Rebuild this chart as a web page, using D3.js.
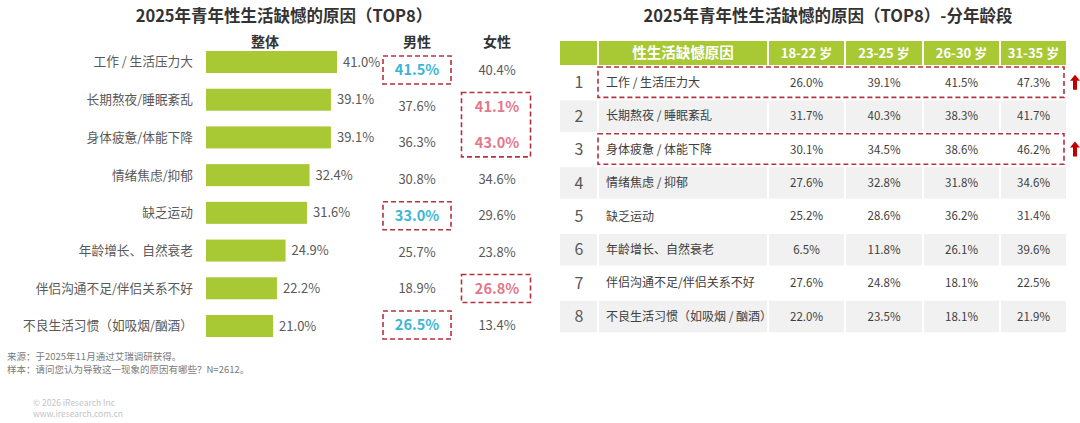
<!DOCTYPE html>
<html><head><meta charset="utf-8">
<script src="https://cdn.jsdelivr.net/npm/d3@7"></script>
<style>
html,body{margin:0;padding:0;background:#fff;}
svg{display:block;font-family:"Noto Sans CJK SC","Noto Sans",sans-serif;}
</style></head>
<body>
<svg id="chart" width="1080" height="423"></svg>
<script>
// ---------- data ----------
const leftTitle = "2025年青年性生活缺憾的原因（TOP8）";
const rightTitle = "2025年青年性生活缺憾的原因（TOP8）-分年龄段";
const groupHeaders = ["整体", "男性", "女性"];
const categories = ["工作 / 生活压力大","长期熬夜/睡眠紊乱","身体疲惫/体能下降","情绪焦虑/抑郁","缺乏运动","年龄增长、自然衰老","伴侣沟通不足/伴侣关系不好","不良生活习惯（如吸烟/酗酒）"];
const overall = [41.0, 39.1, 39.1, 32.4, 31.6, 24.9, 22.2, 21.0];
const male    = [41.5, 37.6, 36.3, 30.8, 33.0, 25.7, 18.9, 26.5];
const female  = [40.4, 41.1, 43.0, 34.6, 29.6, 23.8, 26.8, 13.4];
const maleHighlight = [[0], [4], [7]];
const femaleHighlight = [[1, 2], [6]];

const tableHeader = "性生活缺憾原因";
const tableCategories = ["工作 / 生活压力大","长期熬夜 / 睡眠紊乱","身体疲惫 / 体能下降","情绪焦虑 / 抑郁","缺乏运动","年龄增长、自然衰老","伴侣沟通不足/伴侣关系不好","不良生活习惯（如吸烟 / 酗酒）"];
const ageGroups = ["18-22 岁","23-25 岁","26-30 岁","31-35 岁"];
const age18_22 = [26.0, 31.7, 30.1, 27.6, 25.2, 6.5, 27.6, 22.0];
const age23_25 = [39.1, 40.3, 34.5, 32.8, 28.6, 11.8, 24.8, 23.5];
const age26_30 = [41.5, 38.3, 38.6, 31.8, 36.2, 26.1, 18.1, 18.1];
const age31_35 = [47.3, 41.7, 46.2, 34.6, 31.4, 39.6, 22.5, 21.9];
const tableHighlightRows = [0, 2];

const notes = ["来源：于2025年11月通过艾瑞调研获得。", "样本：请问您认为导致这一现象的原因有哪些？N=2612。"];
const credits = ["© 2026 iResearch Inc", "www.iresearch.com.cn"];

// ---------- styles ----------
const GREEN = "#a9c934", TXT = "#595959", DARK = "#333333", RED = "#b5323e";
const BLUE = "#3cb6d6", PINK = "#e3788c", GRAY = "#f1f1f1";
const fmt = v => v.toFixed(1) + "%";

const svg = d3.select("#chart");

// ---------- left chart ----------
svg.append("text").attr("x", 284).attr("y", 22).attr("text-anchor", "middle")
  .attr("font-size", 16.5).attr("font-weight", "bold").attr("fill", DARK).text(leftTitle);

const colX = [265, 417, 497];
svg.selectAll("text.gh").data(groupHeaders).join("text").attr("class", "gh")
  .attr("x", (d, i) => colX[i]).attr("y", 47).attr("text-anchor", "middle")
  .attr("font-size", 14).attr("font-weight", "bold").attr("fill", DARK).text(d => d);

const x = d3.scaleLinear().domain([0, 41]).range([206, 337]);
const y = d3.scalePoint().domain(d3.range(categories.length)).range([62, 326]);
const y2 = d3.scalePoint().domain(d3.range(categories.length)).range([70, 325]);
const barH = 22;

svg.selectAll("text.cat").data(categories).join("text").attr("class", "cat")
  .attr("x", 193).attr("y", (d, i) => y(i)).attr("dy", "0.35em").attr("text-anchor", "end")
  .attr("font-size", 12.7).attr("fill", TXT).text(d => d);

svg.selectAll("rect.bar").data(overall).join("rect").attr("class", "bar")
  .attr("x", x(0)).attr("y", (d, i) => y(i) - barH / 2)
  .attr("width", d => x(d) - x(0)).attr("height", barH).attr("fill", GREEN);

svg.selectAll("text.bv").data(overall).join("text").attr("class", "bv")
  .attr("x", d => x(d) + 6).attr("y", (d, i) => y(i)).attr("dy", "0.35em")
  .attr("font-size", 13).attr("fill", TXT).text(fmt);

const maleHi = new Set(maleHighlight.flat());
const femaleHi = new Set(femaleHighlight.flat());

svg.selectAll("text.mv").data(male).join("text").attr("class", "mv")
  .attr("x", colX[1]).attr("y", (d, i) => y2(i)).attr("dy", "0.35em").attr("text-anchor", "middle")
  .attr("font-size", (d, i) => maleHi.has(i) ? 14.5 : 13)
  .attr("font-weight", (d, i) => maleHi.has(i) ? "bold" : "normal")
  .attr("fill", (d, i) => maleHi.has(i) ? BLUE : TXT).text(fmt);

svg.selectAll("text.fv").data(female).join("text").attr("class", "fv")
  .attr("x", colX[2]).attr("y", (d, i) => y2(i)).attr("dy", "0.35em").attr("text-anchor", "middle")
  .attr("font-size", (d, i) => femaleHi.has(i) ? 14.5 : 13)
  .attr("font-weight", (d, i) => femaleHi.has(i) ? "bold" : "normal")
  .attr("fill", (d, i) => femaleHi.has(i) ? PINK : TXT).text(fmt);

function hiBoxes(groups, cx, w) {
  svg.append("g").selectAll("rect").data(groups).join("rect")
    .attr("x", cx - w / 2).attr("y", g => y2(g[0]) - 14)
    .attr("width", w).attr("height", g => y2(g[g.length - 1]) - y2(g[0]) + 28)
    .attr("fill", "none").attr("stroke", RED).attr("stroke-width", 1.6).attr("stroke-dasharray", "5,3");
}
hiBoxes(maleHighlight, colX[1], 68);
hiBoxes(femaleHighlight, colX[2] - 1, 69);

// ---------- right table ----------
svg.append("text").attr("x", 828).attr("y", 22).attr("text-anchor", "middle")
  .attr("font-size", 16.5).attr("font-weight", "bold").attr("fill", DARK).text(rightTitle);

const colEdges = [560, 598, 768, 845, 923, 1000, 1067];
const headTop = 41, headBot = 65, rowTop = 66, rowH = 33.4;
const headers = ["", tableHeader].concat(ageGroups);
const ageSeries = [age18_22, age23_25, age26_30, age31_35];
const rowY = d3.scaleBand().domain(d3.range(tableCategories.length)).range([rowTop, rowTop + rowH * tableCategories.length]);

// header
svg.append("g").selectAll("rect").data(headers).join("rect")
  .attr("x", (d, i) => colEdges[i] + (i ? 1 : 0)).attr("y", headTop)
  .attr("width", (d, i) => colEdges[i + 1] - colEdges[i] - (i ? 1 : 0) - 1).attr("height", headBot - headTop)
  .attr("fill", GREEN);
svg.append("g").selectAll("text").data(headers).join("text")
  .attr("x", (d, i) => (colEdges[i] + colEdges[i + 1]) / 2).attr("y", (headTop + headBot) / 2).attr("dy", "0.36em")
  .attr("text-anchor", "middle").attr("font-size", (d, i) => i === 1 ? 14.5 : 13).attr("font-weight", "bold")
  .attr("fill", "#fff").text(d => d);

// striped rows
const rows = svg.append("g").selectAll("g").data(tableCategories).join("g");
rows.each(function (cat, r) {
  const g = d3.select(this);
  if (r % 2 === 1) {
    g.selectAll("rect").data(d3.range(6)).join("rect")
      .attr("x", c => colEdges[c] + (c ? 1 : 0)).attr("y", rowY(r) + 1)
      .attr("width", c => colEdges[c + 1] - colEdges[c] - (c ? 1 : 0) - 1).attr("height", rowY.bandwidth() - 2)
      .attr("fill", GRAY);
  }
  const cy = rowY(r) + rowY.bandwidth() / 2;
  g.append("text").attr("x", 579).attr("y", cy).attr("dy", "0.36em").attr("text-anchor", "middle")
    .attr("font-size", 16).attr("fill", TXT).text(r + 1);
  g.append("text").attr("x", 606).attr("y", cy).attr("dy", "0.36em")
    .attr("font-size", 12).attr("fill", "#404040").text(cat);
  g.selectAll("text.v").data(ageSeries.map(s => s[r])).join("text").attr("class", "v")
    .attr("x", (d, c) => (colEdges[c + 2] + colEdges[c + 3]) / 2).attr("y", cy).attr("dy", "0.36em")
    .attr("text-anchor", "middle").attr("font-size", 11.5).attr("fill", "#404040").text(fmt);
});

// highlighted rows + arrows
svg.append("g").selectAll("rect").data(tableHighlightRows).join("rect")
  .attr("x", 598).attr("y", r => rowY(r) + 1).attr("width", 1064 - 598).attr("height", rowY.bandwidth() - 3)
  .attr("fill", "none").attr("stroke", RED).attr("stroke-width", 1.6).attr("stroke-dasharray", "5,3");
svg.append("g").selectAll("path").data(tableHighlightRows).join("path")
  .attr("transform", r => `translate(1075,${rowY(r) + rowY.bandwidth() / 2})`)
  .attr("d", "M0,-8 L5,-2 L2,-2 L2,7 L-2,7 L-2,-2 L-5,-2 Z")
  .attr("fill", "#c00000");

// ---------- notes ----------
svg.selectAll("text.note").data(notes).join("text").attr("class", "note")
  .attr("x", 7).attr("y", (d, i) => 360 + i * 13).attr("font-size", 9.5).attr("fill", "#7a7a7a").text(d => d);
svg.selectAll("text.credit").data(credits).join("text").attr("class", "credit")
  .attr("x", 33).attr("y", (d, i) => 406 + i * 11).attr("font-size", 8.5).attr("fill", "#c4c4c4").text(d => d);
</script>
</body></html>
